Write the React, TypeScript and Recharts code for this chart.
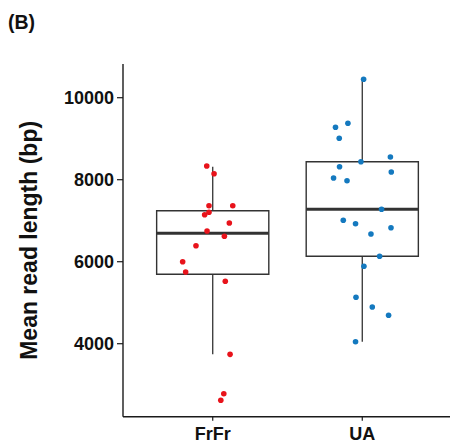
import { ScatterChart, Scatter, XAxis, YAxis, ReferenceArea, ReferenceLine } from 'recharts';

const categories = ['FrFr', 'UA'];
const yTicks = [4000, 6000, 8000, 10000];

// box statistics: whisker ends, quartiles, median
const whiskerLow = [3741, 4049];
const q1 = [5693, 6132];
const median = [6693, 7278];
const q3 = [7244, 8439];
const whiskerHigh = [8317, 10449];

// jittered points (offset from category centre, value in bp)
const frfrValues = [8334, 8146, 7366, 7366, 7146, 7205, 6944, 6749, 6620, 6390, 6000, 5749, 5522, 3741, 2780, 2620];
const frfrJitter = [-0.04, 0.009, -0.025, 0.134, -0.054, -0.025, 0.111, -0.038, 0.078, -0.112, -0.201, -0.181, 0.084, 0.116, 0.074, 0.054];
const uaValues = [10449, 9376, 9278, 9010, 8554, 8439, 8317, 8188, 8041, 7976, 7278, 7010, 6927, 6829, 6676, 6132, 5888, 5132, 4895, 4693, 4049];
const uaJitter = [0.009, -0.096, -0.179, -0.154, 0.188, -0.009, -0.152, 0.194, -0.192, -0.102, 0.129, -0.127, -0.045, 0.192, 0.058, 0.116, 0.011, -0.042, 0.067, 0.176, -0.045];

const FONT = '"Liberation Sans", Arial, Helvetica, sans-serif';
const INK = '#1a1a1a';
const BOX_HALF = 0.375;

const toPoints = (values: number[], jitter: number[], pos: number) =>
  values.map((v, i) => ({ x: pos + jitter[i], y: v }));

const frfrPoints = toPoints(frfrValues, frfrJitter, 1);
const uaPoints = toPoints(uaValues, uaJitter, 2);

const dot = (color: string) => (props: any) => (
  <circle cx={props.cx} cy={props.cy} r={2.8} fill={color} />
);

export default function App() {
  return (
    <div style={{ position: 'absolute', left: 0, top: 0, width: 450, height: 444, overflow: 'hidden', background: '#fff' }}>
      <div style={{ position: 'absolute', left: 8, top: 11, fontFamily: FONT, fontWeight: 'bold', fontSize: 19.5, color: '#111' }}>
        (B)
      </div>
      <ScatterChart width={452} height={444} margin={{ top: 64, right: 0, bottom: 0, left: 0 }}>
        <XAxis
          type="number"
          dataKey="x"
          domain={[0.4, 2.6]}
          ticks={[1, 2]}
          tickFormatter={(v: number) => categories[v - 1]}
          allowDataOverflow
          height={27.3}
          tickSize={4}
          tickMargin={7}
          axisLine={{ stroke: INK, strokeWidth: 1.4 }}
          tickLine={{ stroke: INK, strokeWidth: 1.2 }}
          tick={{ fill: '#111', fontSize: 18, fontWeight: 'bold', fontFamily: FONT }}
        />
        <YAxis
          type="number"
          dataKey="y"
          domain={[2220, 10822]}
          ticks={yTicks}
          allowDataOverflow
          width={123}
          tickSize={6}
          tickMargin={3}
          axisLine={{ stroke: INK, strokeWidth: 1.4 }}
          tickLine={{ stroke: INK, strokeWidth: 1.2 }}
          tick={{ fill: '#111', fontSize: 18, fontWeight: 'bold', fontFamily: FONT }}
          label={({ viewBox }: any) => {
            const cy = viewBox.y + viewBox.height / 2;
            return (
              <text
                x={29}
                y={cy}
                transform={`rotate(-90 29 ${cy})`}
                textAnchor="middle"
                dominantBaseline="central"
                fontFamily={FONT}
                fontWeight="bold"
                fontSize={23}
                fill="#111"
              >
                Mean read length (bp)
              </text>
            );
          }}
        />
        {categories.map((c, i) => (
          <ReferenceLine
            key={`wl-${c}`}
            segment={[{ x: i + 1, y: whiskerLow[i] }, { x: i + 1, y: q1[i] }]}
            stroke="#333"
            strokeWidth={1.3}
          />
        ))}
        {categories.map((c, i) => (
          <ReferenceLine
            key={`wh-${c}`}
            segment={[{ x: i + 1, y: q3[i] }, { x: i + 1, y: whiskerHigh[i] }]}
            stroke="#333"
            strokeWidth={1.3}
          />
        ))}
        {categories.map((c, i) => (
          <ReferenceArea
            key={`box-${c}`}
            x1={i + 1 - BOX_HALF}
            x2={i + 1 + BOX_HALF}
            y1={q1[i]}
            y2={q3[i]}
            fill="none"
            fillOpacity={0}
            stroke="#333"
            strokeWidth={1.4}
          />
        ))}
        {categories.map((c, i) => (
          <ReferenceLine
            key={`med-${c}`}
            segment={[{ x: i + 1 - BOX_HALF, y: median[i] }, { x: i + 1 + BOX_HALF, y: median[i] }]}
            stroke="#333"
            strokeWidth={3}
          />
        ))}
        <Scatter data={frfrPoints} shape={dot('#E8131B')} isAnimationActive={false} />
        <Scatter data={uaPoints} shape={dot('#1479BF')} isAnimationActive={false} />
      </ScatterChart>
    </div>
  );
}
